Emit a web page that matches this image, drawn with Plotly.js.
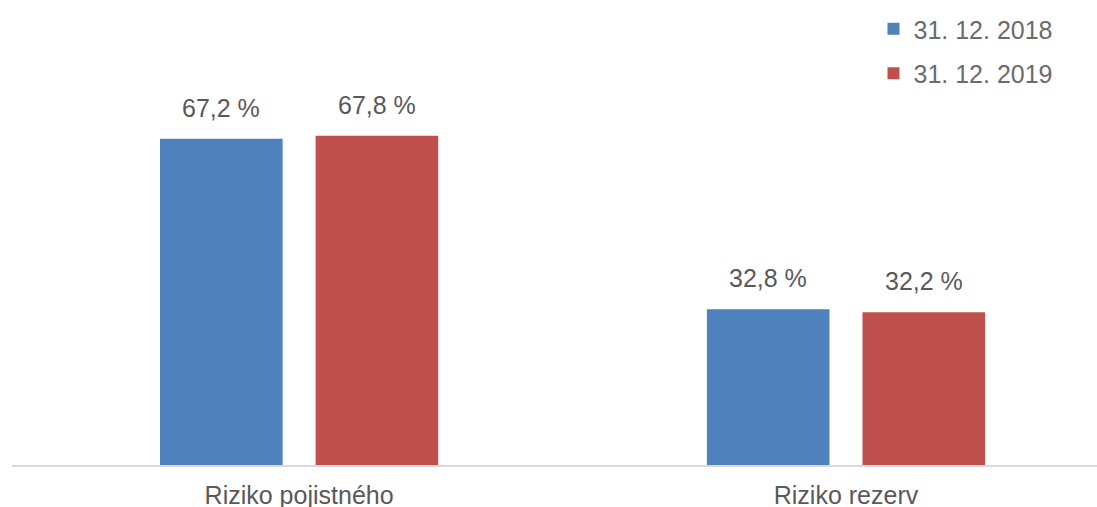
<!DOCTYPE html>
<html>
<head>
<meta charset="utf-8">
<script src="https://cdn.plot.ly/plotly-3.0.1.min.js"></script>
<style>html,body{margin:0;padding:0;background:#fff;}#chart{width:1097px;height:507px;}</style>
</head>
<body>
<div id="chart"></div>
<script>
const categories = ["Riziko pojistného", "Riziko rezerv"];
const seriesNames = ["31. 12. 2018", "31. 12. 2019"];
const values2018 = [67.2, 32.8];
const values2019 = [67.8, 32.2];
const colors = ["#4F81BD", "#C0504D"];

function fmt(v) { return v.toFixed(1).replace(".", ",") + " %"; }

const allValues = [values2018, values2019];
const traces = allValues.map((vals, i) => ({
  type: "bar",
  name: seriesNames[i],
  x: categories,
  y: vals,
  marker: { color: colors[i] },
  legendgroup: "g" + i,
  hoverinfo: "none",
  offsetgroup: String(i)
}));

const slot = 0.569 / 2;
const annotations = [];
allValues.forEach((vals, i) => {
  vals.forEach((v, j) => {
    annotations.push({
      x: j + (i === 0 ? -slot / 2 : slot / 2),
      y: v,
      xref: "x", yref: "y",
      text: fmt(v),
      showarrow: false,
      yanchor: "bottom",
      yshift: 15,
      font: { family: "Liberation Sans, Arial, sans-serif", size: 25, color: "#595959" }
    });
  });
});

const layout = {
  width: 1097, height: 507,
  margin: { l: 12, r: 0, t: 0, b: 42 },
  paper_bgcolor: "#ffffff",
  plot_bgcolor: "#ffffff",
  barmode: "group",
  bargap: 0.431,
  bargroupgap: 0.212,
  showlegend: true,
  legend: {
    x: 0.794, xanchor: "left",
    y: 0.987, yanchor: "top",
    traceorder: "grouped",
    tracegroupgap: 9,
    font: { family: "Liberation Sans, Arial, sans-serif", size: 25, color: "#6b6b6b" },
    bgcolor: "rgba(0,0,0,0)"
  },
  xaxis: {
    type: "category",
    range: [-0.525, 1.459],
    showline: true, linecolor: "#D9D9D9", linewidth: 1.5,
    ticks: "", showgrid: false, zeroline: false,
    ticklabelstandoff: 7,
    tickfont: { family: "Liberation Sans, Arial, sans-serif", size: 25, color: "#595959" },
    fixedrange: true
  },
  yaxis: {
    range: [1.4, 95.2],
    visible: false,
    showgrid: false, zeroline: false,
    fixedrange: true
  },
  annotations: annotations
};

Plotly.newPlot("chart", traces, layout, { displayModeBar: false, staticPlot: true });
</script>
</body>
</html>
